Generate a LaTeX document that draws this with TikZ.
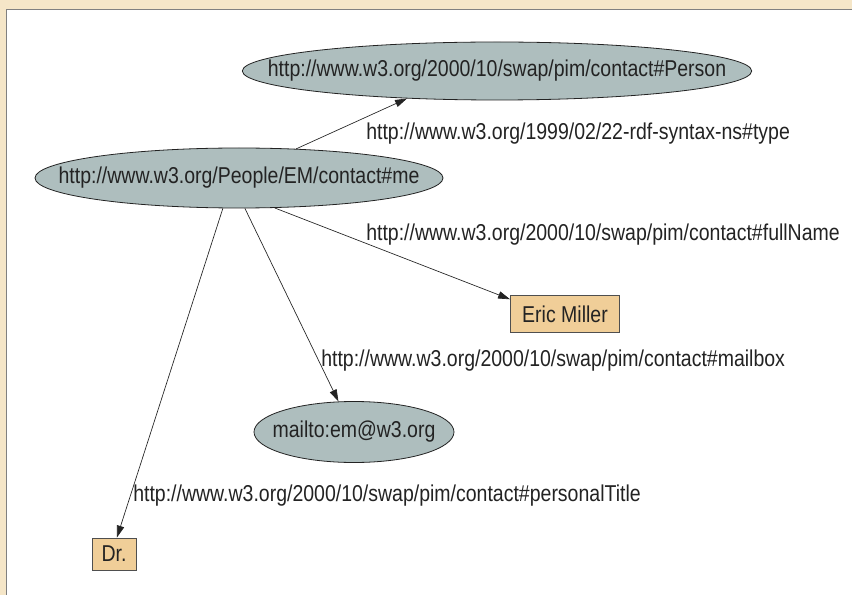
\documentclass[tikz,border=0pt]{standalone}
\usepackage{fontspec}
\setmainfont[FakeStretch=0.85]{Liberation Sans}
\usetikzlibrary{shapes.geometric,arrows.meta}
\definecolor{urifill}{RGB}{174,190,190}
\definecolor{litfill}{RGB}{240,206,152}
\definecolor{framefill}{RGB}{245,230,200}
\definecolor{ink}{RGB}{35,35,35}
% ellipse size is set by minimum width/height only (text kept in a zero-width box)
\tikzstyle{resource}=[ellipse,draw=ink,line width=0.6pt,fill=urifill,inner sep=0pt,text=ink]
\tikzstyle{literal}=[rectangle,draw=ink!80,line width=0.6pt,fill=litfill,inner sep=0pt,text=ink]
\tikzstyle{prop}=[anchor=base west,inner sep=0pt,text=ink]
\tikzstyle{link}=[->,ink,line width=0.5pt]

\begin{document}
\begin{tikzpicture}[x=0.75pt,y=-0.75pt,font=\fontsize{17.2}{20}\selectfont,>={Triangle[length=9pt,width=5.5pt]}]
\useasboundingbox (0, 0) rectangle (852, 595);
\fill[framefill] (0, 0) rectangle (852, 595);
\fill[white] (7, 10) rectangle (852, 595);
\draw[gray, line width=1.2pt] (6.5, 595) -- (6.5, 9.5) -- (852, 9.5);

\node[resource, minimum width=382pt, minimum height=43.5pt] at (497, 71) (person) {\makebox[0pt]{http://www.w3.org/2000/10/swap/pim/contact\#Person}};
\node[resource, minimum width=306pt, minimum height=45pt] at (239, 178) (me) {\makebox[0pt]{http://www.w3.org/People/EM/contact\#me}};
\node[resource, minimum width=150pt, minimum height=45.75pt] at (354, 432) (mailto) {\makebox[0pt]{mailto:em@w3.org}};
\node[literal, minimum width=81.75pt, minimum height=27.75pt] at (565, 314) (eric) {Eric Miller};
\node[literal, minimum width=33pt, minimum height=24pt] at (114, 554) (dr) {Dr.};

\draw (me.27) edge[link] (person.197);
\draw (me.-40) edge[link] (eric.165);
\draw (me.-79) edge[link] (mailto.117);
\draw (me.-118) edge[link] (dr.80);

\node[prop] at (366, 140) (typelbl) {http://www.w3.org/1999/02/22-rdf-syntax-ns\#type};
\node[prop] at (366, 240) (namelbl) {http://www.w3.org/2000/10/swap/pim/contact\#fullName};
\node[prop] at (321, 366) (maillbl) {http://www.w3.org/2000/10/swap/pim/contact\#mailbox};
\node[prop] at (133, 501) (titlelbl) {http://www.w3.org/2000/10/swap/pim/contact\#personalTitle};
\end{tikzpicture}
\end{document}
